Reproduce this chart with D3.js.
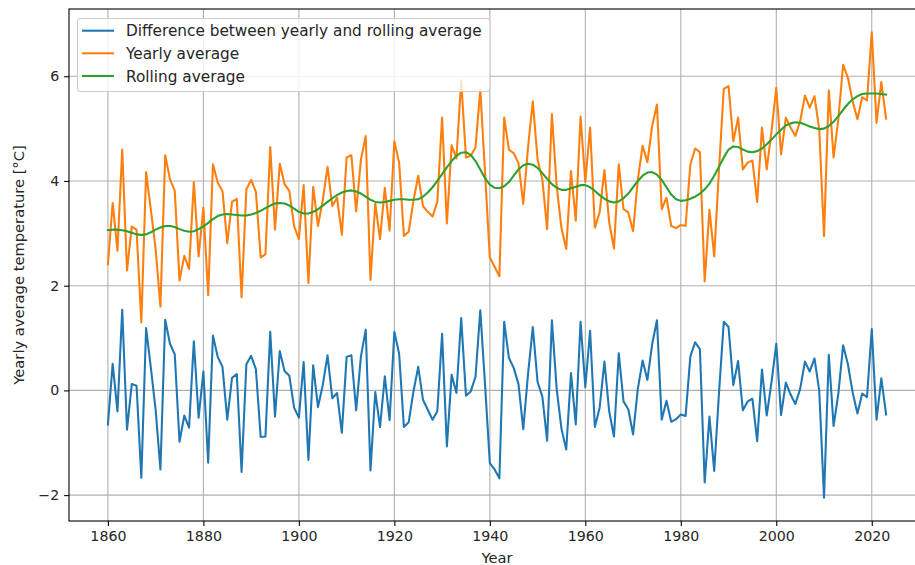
<!DOCTYPE html>
<html>
<head>
<meta charset="utf-8">
<script src="https://cdn.jsdelivr.net/npm/d3@7"></script>
<style>
  html, body { margin: 0; padding: 0; background: #fff; }
  svg { display: block; font-family: "DejaVu Sans", sans-serif; }
</style>
</head>
<body>
<svg id="chart" width="915" height="565"></svg>
<script>
// Years 1860–2023
const firstYear = 1860;
const lastYear = 2023;

// Yearly average temperature [°C]
const yearly = [
  2.41, 3.58, 2.67, 4.60, 2.29, 3.13, 3.07, 1.30, 4.17, 3.45,
  2.70, 1.60, 4.49, 4.03, 3.81, 2.10, 2.57, 2.32, 3.98, 2.56,
  3.49, 1.82, 4.32, 3.97, 3.81, 2.81, 3.60, 3.66, 1.78, 3.84,
  4.02, 3.79, 2.54, 2.60, 4.65, 3.07, 4.33, 3.94, 3.81, 3.14,
  2.89, 3.92, 2.05, 3.89, 3.14, 3.63, 4.27, 3.52, 3.68, 2.97,
  4.45, 4.49, 3.42, 4.41, 4.86, 2.11, 3.57, 2.89, 3.87, 3.05,
  4.76, 4.35, 2.95, 3.03, 3.62, 4.10, 3.52, 3.41, 3.32, 3.60,
  5.21, 3.19, 4.68, 4.43, 5.92, 4.45, 4.48, 4.64, 5.75, 4.15,
  2.54, 2.36, 2.18, 5.21, 4.60, 4.53, 4.34, 3.56, 4.64, 5.52,
  4.41, 4.03, 3.08, 5.28, 3.90, 3.10, 2.70, 4.19, 3.24, 5.23,
  3.98, 5.02, 3.11, 3.40, 4.21, 3.21, 2.71, 4.32, 3.46, 3.40,
  3.04, 4.03, 4.67, 4.36, 5.05, 5.46, 3.46, 3.68, 3.14, 3.10,
  3.16, 3.14, 4.31, 4.62, 4.55, 2.08, 3.45, 2.56, 4.22, 5.76,
  5.81, 4.76, 5.21, 4.22, 4.35, 4.39, 3.60, 5.02, 4.22, 4.95,
  5.78, 4.51, 5.21, 5.02, 4.86, 5.14, 5.63, 5.40, 5.62, 4.98,
  2.95, 5.73, 4.45, 5.18, 6.22, 5.97, 5.52, 5.18, 5.60, 5.54,
  6.84, 5.11, 5.89, 5.19
];

// Smoothed rolling average [°C]
const rolling = [
  3.06, 3.07, 3.07, 3.06, 3.04, 3.01, 2.98, 2.97, 2.98, 3.02,
  3.07, 3.11, 3.14, 3.14, 3.12, 3.08, 3.05, 3.03, 3.04, 3.08,
  3.13, 3.20, 3.27, 3.33, 3.36, 3.37, 3.36, 3.35, 3.34, 3.34,
  3.36, 3.39, 3.43, 3.48, 3.53, 3.57, 3.58, 3.57, 3.53, 3.47,
  3.41, 3.38, 3.38, 3.41, 3.46, 3.53, 3.60, 3.67, 3.73, 3.78,
  3.81, 3.82, 3.80, 3.76, 3.70, 3.64, 3.60, 3.59, 3.60, 3.62,
  3.64, 3.65, 3.65, 3.64, 3.64, 3.65, 3.70, 3.78, 3.88, 4.00,
  4.13, 4.26, 4.38, 4.48, 4.54, 4.55, 4.50, 4.38, 4.22, 4.05,
  3.93, 3.87, 3.86, 3.90, 3.98, 4.10, 4.22, 4.30, 4.33, 4.31,
  4.25, 4.15, 4.04, 3.94, 3.87, 3.83, 3.83, 3.86, 3.89, 3.92,
  3.92, 3.88, 3.81, 3.73, 3.66, 3.61, 3.59, 3.61, 3.67, 3.76,
  3.88, 4.00, 4.10, 4.16, 4.17, 4.12, 4.02, 3.88, 3.74, 3.65,
  3.62, 3.63, 3.66, 3.70, 3.76, 3.84, 3.95, 4.10, 4.27, 4.45,
  4.60, 4.66, 4.65, 4.60, 4.56, 4.55, 4.57, 4.62, 4.70, 4.79,
  4.89, 4.98, 5.06, 5.10, 5.12, 5.11, 5.08, 5.04, 5.01, 4.99,
  5.00, 5.05, 5.13, 5.24, 5.36, 5.47, 5.56, 5.62, 5.66, 5.67,
  5.67, 5.67, 5.66, 5.65
];

const xTicks = [1860, 1880, 1900, 1920, 1940, 1960, 1980, 2000, 2020];
const yTicks = [-2, 0, 2, 4, 6];

const seriesNames = [
  "Difference between yearly and rolling average",
  "Yearly average",
  "Rolling average"
];
const seriesColors = ["#1f77b4", "#ff7f0e", "#2ca02c"];

// Assemble records
const years = d3.range(firstYear, lastYear + 1);
const rows = years.map((yr, i) => ({
  year: yr,
  yearly: yearly[i],
  rolling: rolling[i],
  diff: yearly[i] - rolling[i]
}));

const svg = d3.select("#chart");
const plot = { left: 69, right: 925, top: 9, bottom: 521 };

// Axis limits with 5% padding around the data, as matplotlib does
const xPad = (lastYear - firstYear) * 0.05;
const allVals = rows.flatMap(r => [r.yearly, r.rolling, r.diff]);
const yMin = d3.min(allVals), yMax = d3.max(allVals);
const yPad = (yMax - yMin) * 0.05;

const x = d3.scaleLinear()
  .domain([firstYear - xPad, lastYear + xPad])
  .range([plot.left, plot.right]);
const y = d3.scaleLinear()
  .domain([yMin - yPad, yMax + yPad])
  .range([plot.bottom, plot.top]);

// Grid
const grid = svg.append("g").attr("class", "grid");
grid.selectAll("line.vx").data(xTicks).join("line")
  .attr("x1", d => x(d)).attr("x2", d => x(d))
  .attr("y1", plot.top).attr("y2", plot.bottom)
  .attr("stroke", "#b0b0b0").attr("stroke-width", 1.1);
grid.selectAll("line.hy").data(yTicks).join("line")
  .attr("x1", plot.left).attr("x2", plot.right)
  .attr("y1", d => y(d)).attr("y2", d => y(d))
  .attr("stroke", "#b0b0b0").attr("stroke-width", 1.1);

// Series lines
svg.append("clipPath").attr("id", "plotclip")
  .append("rect")
  .attr("x", plot.left).attr("y", plot.top)
  .attr("width", plot.right - plot.left).attr("height", plot.bottom - plot.top);

const keys = ["diff", "yearly", "rolling"];
const lines = svg.append("g").attr("clip-path", "url(#plotclip)");
keys.forEach((k, i) => {
  const gen = d3.line().x(d => x(d.year)).y(d => y(d[k]));
  lines.append("path")
    .datum(rows)
    .attr("d", gen)
    .attr("fill", "none")
    .attr("stroke", seriesColors[i])
    .attr("stroke-width", 2.08)
    .attr("stroke-linejoin", "round")
    .attr("stroke-linecap", "square");
});

// Axes
const tickFmt = d => (d < 0 ? "\u2212" + Math.abs(d) : String(d));
const xAxis = d3.axisBottom(x).tickValues(xTicks).tickFormat(d3.format("d"))
  .tickSize(4.9).tickPadding(4.9);
const yAxis = d3.axisLeft(y).tickValues(yTicks).tickFormat(tickFmt)
  .tickSize(4.9).tickPadding(4.9);

const gx = svg.append("g").attr("transform", `translate(0,${plot.bottom})`).call(xAxis);
const gy = svg.append("g").attr("transform", `translate(${plot.left},0)`).call(yAxis);
[gx, gy].forEach(g => {
  g.select(".domain").remove();
  g.selectAll(".tick line").attr("stroke", "#000").attr("stroke-width", 1.1);
  g.selectAll(".tick text")
    .attr("fill", "#262626")
    .style("font-family", "'DejaVu Sans', sans-serif")
    .style("font-size", "14.2px");
});

// Frame
svg.append("rect")
  .attr("x", plot.left).attr("y", plot.top)
  .attr("width", plot.right - plot.left).attr("height", plot.bottom - plot.top)
  .attr("fill", "none").attr("stroke", "#000").attr("stroke-width", 1.1);

// Axis titles
svg.append("text")
  .attr("x", (plot.left + plot.right) / 2).attr("y", 563)
  .attr("text-anchor", "middle")
  .attr("fill", "#262626")
  .style("font-size", "14.7px")
  .text("Year");
svg.append("text")
  .attr("transform", `translate(24,${(plot.top + plot.bottom) / 2}) rotate(-90)`)
  .attr("text-anchor", "middle")
  .attr("fill", "#262626")
  .style("font-size", "14.7px")
  .text("Yearly average temperature [°C]");

// Legend
const legend = svg.append("g");
legend.append("rect")
  .attr("x", 77.5).attr("y", 18.5)
  .attr("width", 412.5).attr("height", 73)
  .attr("rx", 3).attr("ry", 3)
  .attr("fill", "#fff").attr("fill-opacity", 0.8)
  .attr("stroke", "#cccccc").attr("stroke-width", 1.1);
const rowY = [30.7, 53.3, 76];
seriesNames.forEach((name, i) => {
  legend.append("line")
    .attr("x1", 82).attr("x2", 114)
    .attr("y1", rowY[i]).attr("y2", rowY[i])
    .attr("stroke", seriesColors[i]).attr("stroke-width", 2.08);
  legend.append("text")
    .attr("x", 126).attr("y", rowY[i])
    .attr("dy", "0.36em")
    .attr("fill", "#262626")
    .style("font-size", "15.3px")
    .text(name);
});
</script>
</body>
</html>
